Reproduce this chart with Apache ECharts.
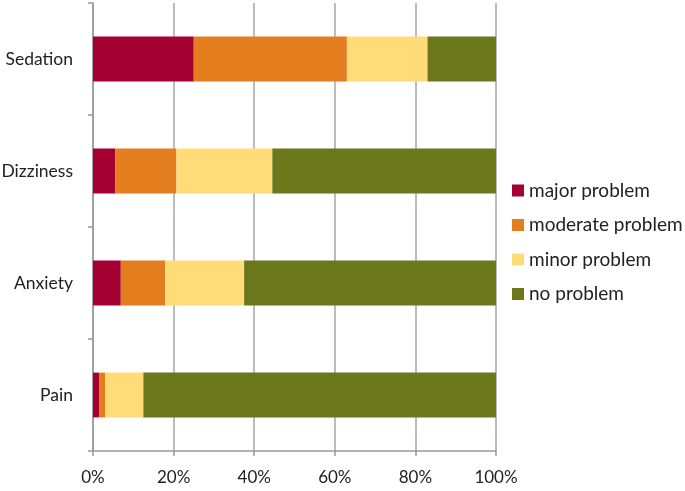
<!DOCTYPE html>
<html><head><meta charset="utf-8">
<script src="https://cdn.jsdelivr.net/npm/echarts@6/dist/echarts.min.js"></script>
<style>html,body{margin:0;padding:0;background:#fff}#c{width:685px;height:491px}</style>
</head><body><div id="c"></div>
<script>
const categories = ['Pain', 'Anxiety', 'Dizziness', 'Sedation'];
const majorProblem = [1.5, 6.9, 5.5, 25];
const moderateProblem = [1.5, 11.0, 15.2, 38];
const minorProblem = [9.5, 19.6, 23.8, 20];
const noProblem = [87.5, 62.5, 55.5, 17];
const seriesNames = ['major problem', 'moderate problem', 'minor problem', 'no problem'];
const xTicks = [0, 20, 40, 60, 80, 100];

const colors = ['#A50034', '#E37D1E', '#FFDC78', '#6A771B'];
const font = 'Lato';
const chart = echarts.init(document.getElementById('c'), null, {renderer: 'canvas'});
const data = [majorProblem, moderateProblem, minorProblem, noProblem];
chart.setOption({
  animation: false,
  color: colors,
  textStyle: {fontFamily: font},
  grid: {left: 93, right: 189, top: 3, bottom: 40, containLabel: false, outerBoundsMode: 'none'},
  legend: {
    orient: 'vertical', left: 507, top: 176,
    icon: 'rect', itemWidth: 12, itemHeight: 12, itemGap: 15.5,
    textStyle: {fontFamily: font, fontSize: 19, lineHeight: 19, color: '#222'},
    data: seriesNames
  },
  xAxis: {
    type: 'value', min: xTicks[0], max: xTicks[xTicks.length - 1], interval: 20,
    axisLine: {show: true, lineStyle: {color: '#999', width: 1.5}},
    axisTick: {show: true, length: 5, lineStyle: {color: '#999', width: 1.5}},
    splitLine: {show: true, lineStyle: {color: '#a6a6a6', width: 1.5}},
    axisLabel: {formatter: '{value}%', fontFamily: font, fontSize: 17, color: '#222', margin: 18}
  },
  yAxis: {
    type: 'category', data: categories,
    axisLine: {show: true, lineStyle: {color: '#999', width: 1.5}},
    axisTick: {show: true, length: 5, lineStyle: {color: '#999', width: 1.5}},
    axisLabel: {fontFamily: font, fontSize: 17.5, color: '#222', margin: 20}
  },
  series: seriesNames.map((n, i) => ({
    name: n, type: 'bar', stack: 'total', barWidth: '40%',
    data: data[i]
  }))
});
</script></body></html>
